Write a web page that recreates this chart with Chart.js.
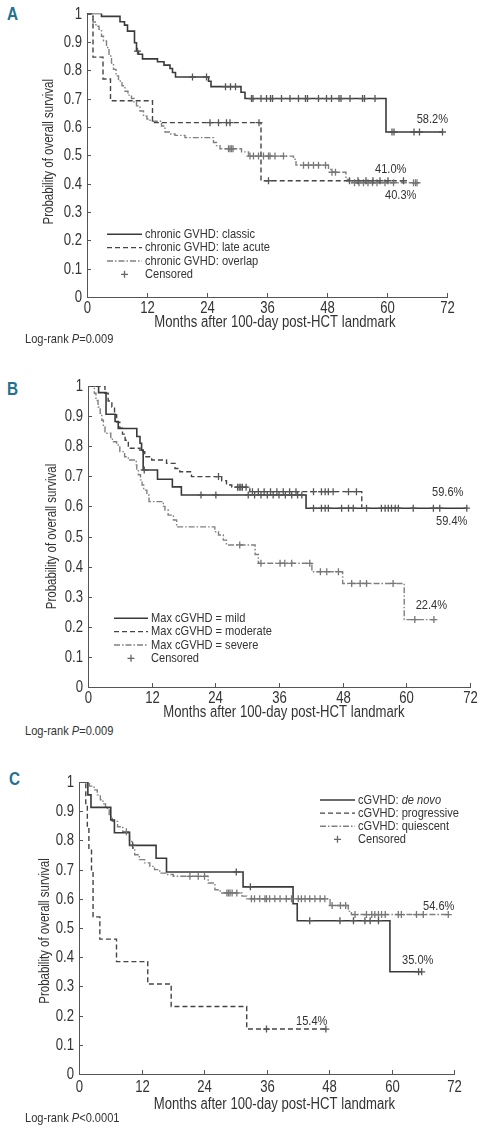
<!DOCTYPE html>
<html lang="en">
<head>
<meta charset="UTF-8">
<title>Overall survival by chronic GVHD</title>
<script src="https://cdn.jsdelivr.net/npm/chart.js"></script>
<style>
  body { margin: 0; background: #fff; }
  #page { position: relative; width: 485px; height: 1132px; overflow: hidden; font-family: "Liberation Sans", Arial, sans-serif; color: #333; }
  canvas { position: absolute; left: 0; }
  .letter { position: absolute; font-weight: bold; font-size: 18px; line-height: 18px; color: #23708f; transform: scaleX(0.85); transform-origin: 0 50%; }
  .lr { position: absolute; left: 25px; font-size: 13.5px; line-height: 16px; color: #333; white-space: nowrap; transform: scaleX(0.82); transform-origin: 0 50%; }
</style>
</head>
<body>
<div id="page">
  <div class="letter" style="left:7px;top:5px">A</div>
  <div class="letter" style="left:7px;top:380px">B</div>
  <div class="letter" style="left:9px;top:770px">C</div>
  <canvas id="chartA" width="485" height="335" style="top:0px"></canvas>
  <canvas id="chartB" width="485" height="353" style="top:370px"></canvas>
  <canvas id="chartC" width="485" height="355" style="top:760px"></canvas>
  <div class="lr" style="top:331px">Log-rank <i>P</i>=0.009</div>
  <div class="lr" style="top:723px">Log-rank <i>P</i>=0.009</div>
  <div class="lr" style="top:1110px">Log-rank <i>P</i>&lt;0.0001</div>
</div>
<script>
const FONT = '"Liberation Sans", Arial, sans-serif';
const SQZ = 0.82;   // horizontal squeeze to mimic a narrow face

// ---- Panel A: classic / late acute / overlap ----
const aClassicT = [0, 2.9, 6.6, 7.5, 8.1, 9.5, 9.9, 10.3, 11.1, 14.1, 15.4, 16.6, 17.1, 17.7, 24.3, 24.8, 30.8, 31.6, 59.8];
const aClassicS = [1, 0.99, 0.971, 0.959, 0.938, 0.897, 0.867, 0.856, 0.84, 0.83, 0.818, 0.806, 0.792, 0.776, 0.761, 0.742, 0.722, 0.70, 0.582];
const aClassicEnd = 71.1;
const aClassicCens = [10.1, 21.1, 23.9, 27.7, 28.7, 29.7, 32.9, 33.2, 34.8, 35.9, 36.7, 37.1, 38.9, 40.6, 42.3, 43.7, 44.1, 46.3, 47.9, 48.9, 50.4, 50.8, 52.6, 55.1, 55.5, 57.6, 61.0, 61.4, 65.4, 66.5, 71.1];

const aLateT = [0, 1.2, 3.2, 4.7, 13.1, 34.8];
const aLateS = [1, 0.846, 0.769, 0.692, 0.615, 0.41];
const aLateEnd = 63.3;
const aLateCens = [24.6, 26.3, 27.9, 28.6, 34.4, 36.3, 52.5, 54.2, 55.8, 57.2, 58.6, 60.2, 63.3];

const aOverT = [0, 1.2, 1.8, 2.4, 2.9, 3.3, 3.9, 4.4, 4.9, 5.3, 5.8, 6.3, 7.0, 7.6, 8.2, 8.9, 9.4, 9.9, 10.6, 11.3, 12.0, 12.6, 14.9, 15.6, 16.6, 17.6, 19.6, 25.3, 25.9, 26.6, 30.9, 32.3, 41.3, 41.8, 48.3, 48.8, 51.8, 52.5];
const aOverS = [1, 0.97, 0.955, 0.944, 0.92, 0.903, 0.88, 0.85, 0.825, 0.803, 0.78, 0.762, 0.745, 0.726, 0.712, 0.70, 0.686, 0.674, 0.656, 0.638, 0.628, 0.62, 0.603, 0.582, 0.575, 0.57, 0.562, 0.545, 0.534, 0.523, 0.512, 0.497, 0.486, 0.465, 0.45, 0.44, 0.415, 0.403];
const aOverEnd = 66.0;
const aOverCens = [28.3, 28.6, 28.9, 29.2, 32.6, 33.3, 34.3, 35.3, 36.3, 36.6, 37.6, 39.3, 43.3, 44.3, 45.3, 46.3, 47.7, 49.0, 49.7, 53.5, 54.4, 55.3, 56.2, 57.1, 58.0, 59.6, 61.3, 65.3, 65.7, 66.0];

// ---- Panel B: max cGVHD mild / moderate / severe ----
const bMildT = [0, 2.0, 3.4, 5.1, 5.7, 9.2, 9.8, 10.1, 10.4, 13.1, 15.9, 17.6, 41.1];
const bMildS = [1, 0.978, 0.906, 0.882, 0.859, 0.832, 0.81, 0.787, 0.721, 0.69, 0.665, 0.638, 0.594];
const bMildEnd = 71.4;
const bMildCens = [10.6, 21.3, 24.1, 30.2, 31.4, 32.6, 33.8, 34.9, 36.0, 37.2, 38.4, 39.5, 40.3, 42.5, 44.0, 44.7, 45.3, 47.8, 49.1, 50.0, 52.5, 55.3, 56.0, 56.6, 57.2, 57.9, 58.5, 61.3, 65.1, 66.3, 71.4];

const bModT = [0, 3.2, 3.8, 4.5, 5.0, 5.4, 6.0, 6.5, 7.0, 7.6, 9.8, 10.7, 12.0, 14.8, 16.4, 17.3, 19.5, 25.2, 26.1, 27.1, 30.5, 51.6];
const bModS = [1, 0.976, 0.95, 0.93, 0.905, 0.88, 0.86, 0.84, 0.82, 0.793, 0.782, 0.765, 0.754, 0.743, 0.726, 0.715, 0.699, 0.685, 0.671, 0.664, 0.649, 0.596];
const bModEnd = 51.6;
const bModCens = [24.6, 28.2, 28.5, 28.8, 29.1, 29.8, 31.0, 32.1, 33.2, 34.4, 35.6, 36.8, 38.0, 39.2, 42.5, 44.0, 44.7, 45.3, 46.2, 49.1, 50.6];

const bSevT = [0, 1.2, 1.5, 1.9, 2.3, 2.6, 2.9, 3.2, 4.3, 4.6, 5.4, 6.0, 6.9, 7.6, 9.1, 9.2, 9.5, 9.9, 10.2, 10.5, 11.1, 11.5, 14.2, 14.5, 15.1, 16.1, 16.7, 23.9, 24.6, 25.5, 26.1, 31.5, 32.1, 42.2, 48.0, 59.6];
const bSevS = [1, 0.976, 0.952, 0.93, 0.909, 0.886, 0.865, 0.843, 0.826, 0.815, 0.804, 0.782, 0.765, 0.754, 0.738, 0.721, 0.705, 0.688, 0.671, 0.654, 0.638, 0.616, 0.60, 0.588, 0.571, 0.555, 0.532, 0.516, 0.505, 0.488, 0.472, 0.44, 0.411, 0.383, 0.344, 0.224];
const bSevEnd = 65.2;
const bSevCens = [28.6, 32.6, 36.2, 37.1, 38.4, 41.8, 43.8, 45.0, 47.2, 49.7, 51.3, 52.5, 57.5, 61.6, 65.2];

// ---- Panel C: de novo / progressive / quiescent ----
const cDenovoT = [0, 1.7, 2.3, 6.1, 6.8, 9.7, 14.8, 16.8, 31.5, 41.1, 41.9, 59.7];
const cDenovoS = [1, 0.956, 0.913, 0.87, 0.826, 0.783, 0.739, 0.692, 0.641, 0.583, 0.525, 0.35];
const cDenovoEnd = 65.8;
const cDenovoCens = [10.3, 30.2, 32.9, 44.3, 50.1, 52.7, 54.9, 55.9, 57.5, 65.2, 65.8];

const cProgT = [0, 1.3, 1.6, 1.9, 2.4, 2.7, 4.0, 7.2, 13.2, 17.7, 32.2];
const cProgS = [1, 0.923, 0.846, 0.769, 0.692, 0.538, 0.462, 0.385, 0.308, 0.231, 0.154];
const cProgEnd = 47.4;
const cProgCens = [36.0, 47.4];

const cQuiT = [0, 2.0, 2.9, 3.5, 4.1, 4.6, 5.1, 5.8, 6.4, 7.4, 8.4, 9.7, 10.3, 10.7, 11.6, 12.6, 13.6, 14.5, 15.5, 16.8, 18.1, 24.8, 26.1, 27.1, 31.3, 32.2, 48.2, 51.7, 52.3];
const cQuiS = [1, 0.986, 0.973, 0.956, 0.939, 0.925, 0.91, 0.882, 0.865, 0.847, 0.83, 0.796, 0.774, 0.751, 0.734, 0.723, 0.711, 0.70, 0.688, 0.683, 0.677, 0.654, 0.631, 0.62, 0.609, 0.60, 0.577, 0.557, 0.546];
const cQuiEnd = 70.9;
const cQuiCens = [9.1, 21.3, 22.9, 24.1, 28.4, 28.7, 29.0, 29.4, 30.3, 33.1, 33.7, 34.7, 35.7, 36.0, 36.6, 37.6, 38.6, 39.8, 40.8, 42.1, 42.7, 43.4, 44.3, 45.3, 46.3, 47.2, 48.6, 50.2, 51.2, 53.0, 55.2, 56.2, 56.8, 57.5, 58.1, 58.8, 61.3, 61.9, 64.8, 66.1, 70.9];

const xTicks = [0, 12, 24, 36, 48, 60, 72];
const yTicks = [0, 0.1, 0.2, 0.3, 0.4, 0.5, 0.6, 0.7, 0.8, 0.9, 1];

// line styles
const SOLID = { color: '#3a3a3a', dash: [], width: 1.6 };
const DASH = { color: '#444444', dash: [5, 3], width: 1.4 };
const DOT = { color: '#808080', dash: [6, 2, 1.5, 2], width: 1.4 };
const CENS_COLOR = '#666666';

function stepData(T, S, end) {
  const pts = T.map((t, i) => ({ x: t, y: S[i] }));
  if (end > T[T.length - 1]) pts.push({ x: end, y: S[S.length - 1] });
  return pts;
}
function survAt(T, S, t) {
  let s = S[0];
  for (let i = 0; i < T.length; i++) if (T[i] <= t) s = S[i];
  return s;
}
function curve(T, S, end, st) {
  return {
    type: 'line', data: stepData(T, S, end), stepped: true,
    borderColor: st.color, borderWidth: st.width, borderDash: st.dash,
    pointRadius: 0, fill: false, order: 2
  };
}
function censors(T, S, C, color) {
  return {
    type: 'scatter', data: C.map(t => ({ x: t, y: survAt(T, S, t) })),
    showLine: false, pointStyle: 'cross', pointRadius: 3.5, pointBorderWidth: 1.3,
    pointBorderColor: color, pointBackgroundColor: color, order: 1
  };
}

// narrow text: squeeze the glyphs horizontally
function nText(ctx, s, x, y, size, align, italic, rot) {
  ctx.save();
  ctx.font = (italic ? 'italic ' : '') + size + 'px ' + FONT;
  ctx.translate(x, y);
  if (rot) ctx.rotate(rot);
  ctx.scale(SQZ, 1);
  ctx.textAlign = align;
  ctx.textBaseline = 'middle';
  ctx.fillText(s, 0, 0);
  const w = ctx.measureText(s).width * SQZ;
  ctx.restore();
  return w;
}

// ticks, tick labels, axis titles, legend and end labels
const annotPlugin = {
  id: 'annot',
  afterDatasetsDraw(chart, args, o) {
    const ctx = chart.ctx;
    const { left, top, bottom } = chart.chartArea;
    const xs = chart.scales.x, ys = chart.scales.y;
    ctx.save();
    ctx.strokeStyle = '#555';
    ctx.fillStyle = '#333';
    ctx.lineWidth = 1;
    ctx.setLineDash([]);
    xTicks.forEach(v => {
      const px = Math.round(xs.getPixelForValue(v)) + 0.5;
      ctx.beginPath(); ctx.moveTo(px, bottom); ctx.lineTo(px, bottom - 4); ctx.stroke();
      nText(ctx, String(v), px, bottom + o.xLab, 16, 'center');
    });
    yTicks.forEach(v => {
      const py = Math.round(ys.getPixelForValue(v)) + 0.5;
      ctx.beginPath(); ctx.moveTo(left, py); ctx.lineTo(left + 4, py); ctx.stroke();
      nText(ctx, String(v), left - 5, py, 16, 'right');
    });
    nText(ctx, 'Probability of overall survival', o.yTitle.x, (top + bottom) / 2 + o.yTitle.dy, 14, 'center', false, -Math.PI / 2);
    nText(ctx, 'Months after 100-day post-HCT landmark', o.xTitle.x, o.xTitle.y, 16, 'center');

    // legend
    const lg = o.legend;
    lg.items.forEach((it, i) => {
      const y = lg.y + i * lg.row;
      if (it.censor) {
        const cx = lg.x + lg.len / 2;
        ctx.strokeStyle = CENS_COLOR; ctx.lineWidth = 1.3; ctx.setLineDash([]);
        ctx.beginPath();
        ctx.moveTo(cx - 3.5, y); ctx.lineTo(cx + 3.5, y);
        ctx.moveTo(cx, y - 3.5); ctx.lineTo(cx, y + 3.5);
        ctx.stroke();
      } else {
        ctx.strokeStyle = it.st.color; ctx.lineWidth = it.st.width; ctx.setLineDash(it.st.dash);
        ctx.beginPath(); ctx.moveTo(lg.x, y); ctx.lineTo(lg.x + lg.len, y); ctx.stroke();
      }
      ctx.setLineDash([]);
      let tx = lg.x + lg.len + 3;
      it.text.forEach(part => {
        tx += nText(ctx, part.s, tx, y, 13.5, 'left', part.italic);
      });
    });

    // end-of-curve percentages
    o.labels.forEach(l => nText(ctx, l.text, l.x, l.y, 13.5, 'left'));
    ctx.restore();
  }
};

function makeChart(id, c) {
  return new Chart(document.getElementById(id), {
    type: 'line',
    data: { datasets: c.datasets },
    options: {
      responsive: false,
      animation: false,
      layout: { padding: { top: c.top, right: c.right, left: 0, bottom: 0 } },
      plugins: { legend: { display: false }, tooltip: { enabled: false }, annot: c.annot },
      scales: {
        x: {
          type: 'linear', min: 0, max: 72,
          grid: { display: false, drawTicks: false },
          border: { display: true, color: '#555', width: 1 },
          ticks: { display: false },
          afterFit: s => { s.height = c.xH; }
        },
        y: {
          type: 'linear', min: 0, max: 1,
          grid: { display: false, drawTicks: false },
          border: { display: true, color: '#555', width: 1 },
          ticks: { display: false },
          afterFit: s => { s.width = c.yW; }
        }
      }
    },
    plugins: [annotPlugin]
  });
}

makeChart('chartA', {
  top: 13.5, right: 38, yW: 87, xH: 38,
  datasets: [
    curve(aClassicT, aClassicS, aClassicEnd, SOLID),
    curve(aLateT, aLateS, aLateEnd, DASH),
    curve(aOverT, aOverS, aOverEnd, DOT),
    censors(aClassicT, aClassicS, aClassicCens, '#555'),
    censors(aLateT, aLateS, aLateCens, '#555'),
    censors(aOverT, aOverS, aOverCens, '#777')
  ],
  annot: {
    xLab: 12, yTitle: { x: 49, dy: -3.5 },
    legend: { x: 107, y: 234.3, row: 13.35, len: 35, items: [
      { st: SOLID, text: [{ s: 'chronic GVHD: classic' }] },
      { st: DASH, text: [{ s: 'chronic GVHD: late acute' }] },
      { st: DOT, text: [{ s: 'chronic GVHD: overlap' }] },
      { censor: true, text: [{ s: 'Censored' }] }
    ] },
    labels: [
      { text: '58.2%', x: 416.7, y: 119 },
      { text: '41.0%', x: 375, y: 169 },
      { text: '40.3%', x: 385, y: 195.7 }
    ],
    xTitle: { x: 275, y: 323 }
  }
});

makeChart('chartB', {
  top: 16, right: 15, yW: 88, xH: 36,
  datasets: [
    curve(bMildT, bMildS, bMildEnd, SOLID),
    curve(bModT, bModS, bModEnd, DASH),
    curve(bSevT, bSevS, bSevEnd, DOT),
    censors(bMildT, bMildS, bMildCens, '#555'),
    censors(bModT, bModS, bModCens, '#555'),
    censors(bSevT, bSevS, bSevCens, '#777')
  ],
  annot: {
    xLab: 11.5, yTitle: { x: 51.7, dy: 0 },
    legend: { x: 114, y: 248.3, row: 13.35, len: 34, items: [
      { st: SOLID, text: [{ s: 'Max cGVHD = mild' }] },
      { st: DASH, text: [{ s: 'Max cGVHD = moderate' }] },
      { st: DOT, text: [{ s: 'Max cGVHD = severe' }] },
      { censor: true, text: [{ s: 'Censored' }] }
    ] },
    labels: [
      { text: '59.6%', x: 432, y: 122.7 },
      { text: '59.4%', x: 436, y: 151.7 },
      { text: '22.4%', x: 415.7, y: 235.3 }
    ],
    xTitle: { x: 284, y: 343 }
  }
});

makeChart('chartC', {
  top: 22, right: 31, yW: 79, xH: 41,
  datasets: [
    curve(cDenovoT, cDenovoS, cDenovoEnd, SOLID),
    curve(cProgT, cProgS, cProgEnd, DASH),
    curve(cQuiT, cQuiS, cQuiEnd, DOT),
    censors(cDenovoT, cDenovoS, cDenovoCens, '#555'),
    censors(cProgT, cProgS, cProgCens, '#555'),
    censors(cQuiT, cQuiS, cQuiCens, '#777')
  ],
  annot: {
    xLab: 14, yTitle: { x: 45, dy: 3 },
    legend: { x: 320, y: 40, row: 13.1, len: 35, items: [
      { st: SOLID, text: [{ s: 'cGVHD: ' }, { s: 'de novo', italic: true }] },
      { st: DASH, text: [{ s: 'cGVHD: progressive' }] },
      { st: DOT, text: [{ s: 'cGVHD: quiescent' }] },
      { censor: true, text: [{ s: 'Censored' }] }
    ] },
    labels: [
      { text: '54.6%', x: 423, y: 146.7 },
      { text: '35.0%', x: 402, y: 200.7 },
      { text: '15.4%', x: 296, y: 261 }
    ],
    xTitle: { x: 274.5, y: 345 }
  }
});
</script>
</body>
</html>
